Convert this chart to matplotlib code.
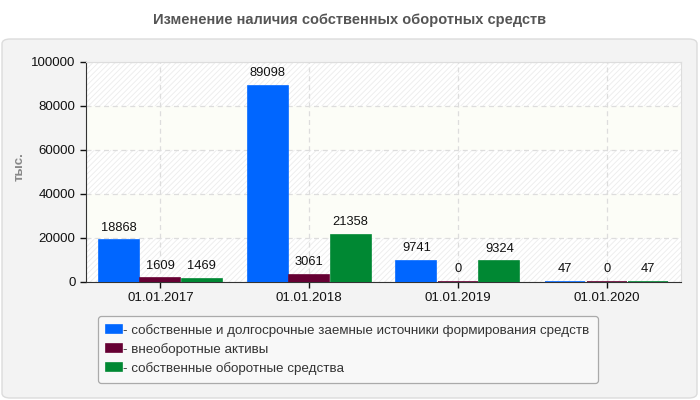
import matplotlib

matplotlib.use("Agg")
import matplotlib.pyplot as plt
import numpy as np
from matplotlib.patches import FancyBboxPatch

plt.rcParams["font.family"] = ["Liberation Sans", "DejaVu Sans"]
plt.rcParams["hatch.linewidth"] = 0.6

dates = ["01.01.2017", "01.01.2018", "01.01.2019", "01.01.2020"]
own_longterm = [18868, 89098, 9741, 47]
noncurrent = [1609, 3061, 0, 0]
own_working = [1469, 21358, 9324, 47]
series_labels = [
    "- собственные и долгосрочные заемные источники формирования средств",
    "- внеоборотные активы",
    "- собственные оборотные средства",
]
colors = ["#0066ff", "#660033", "#008833"]
y_ticks = [0, 20000, 40000, 60000, 80000, 100000]

fig = plt.figure(figsize=(7, 4), dpi=100, facecolor="white")

# outer rounded panel
panel = FancyBboxPatch(
    (2 / 700, 2 / 400), 695 / 700, 359 / 400,
    boxstyle="round,pad=0,rounding_size=0.012",
    transform=fig.transFigure, facecolor="#f3f3f3", edgecolor="#dcdcdc",
    linewidth=1, zorder=-10,
)
fig.patches.append(panel)

fig.text(0.5, 1 - 20 / 400, "Изменение наличия собственных оборотных средств",
         ha="center", va="center", fontsize=10.5, fontweight="bold", color="#555555")

ax = fig.add_axes([86 / 700, 118 / 400, 595 / 700, 220 / 400])
ax.set_facecolor("#fcfdf7")

# alternating bands
for i in range(len(y_ticks) - 1):
    if i % 2 == 0:
        ax.axhspan(y_ticks[i], y_ticks[i + 1], facecolor="white",
                   edgecolor="#ececec", hatch="//////", linewidth=0, zorder=0)

x = np.arange(len(dates))
step = 0.279
w = 0.27
for k, (vals, c, lab) in enumerate(zip([own_longterm, noncurrent, own_working],
                                       colors, series_labels)):
    bars = ax.bar(x + (k - 1) * step, vals, width=w, color=c, edgecolor=c,
                  linewidth=1.2, label=lab, zorder=3)
    ax.bar_label(bars, labels=[str(v) for v in vals], padding=5,
                 fontsize=9.3, color="#111111")

ax.set_xlim(-0.5, len(dates) - 0.5)
ax.set_ylim(0, 100000)
ax.set_yticks(y_ticks)
ax.set_xticks(x)
ax.set_xticklabels(dates)
ax.tick_params(axis="both", labelsize=9.5, colors="#111111", length=4, width=1)
ax.grid(True, color="#dddddd", linestyle=(0, (4, 3)), linewidth=0.9, zorder=1)
ax.set_axisbelow(True)

for s in ["top", "right"]:
    ax.spines[s].set_color("#dddddd")
for s in ["left", "bottom"]:
    ax.spines[s].set_color("#333333")

fig.text(20 / 700, 1 - 167 / 400, "тыс.", rotation=90, ha="center", va="center",
         fontsize=9.5, fontweight="bold", color="#888888")

leg = ax.legend(
    loc="upper left", bbox_to_anchor=(98 / 700, 1 - 316 / 400),
    bbox_transform=fig.transFigure, borderaxespad=0, fontsize=9.6,
    frameon=True, fancybox=True,
    handlelength=1.2, handleheight=0.55, handletextpad=0.1, labelspacing=0.45,
    borderpad=0.6, facecolor="#f8f8f8", edgecolor="#aaaaaa", framealpha=1,
)
leg.get_frame().set_linewidth(0.9)
for t in leg.get_texts():
    t.set_color("#333333")

fig.savefig("out.png", dpi=100)
